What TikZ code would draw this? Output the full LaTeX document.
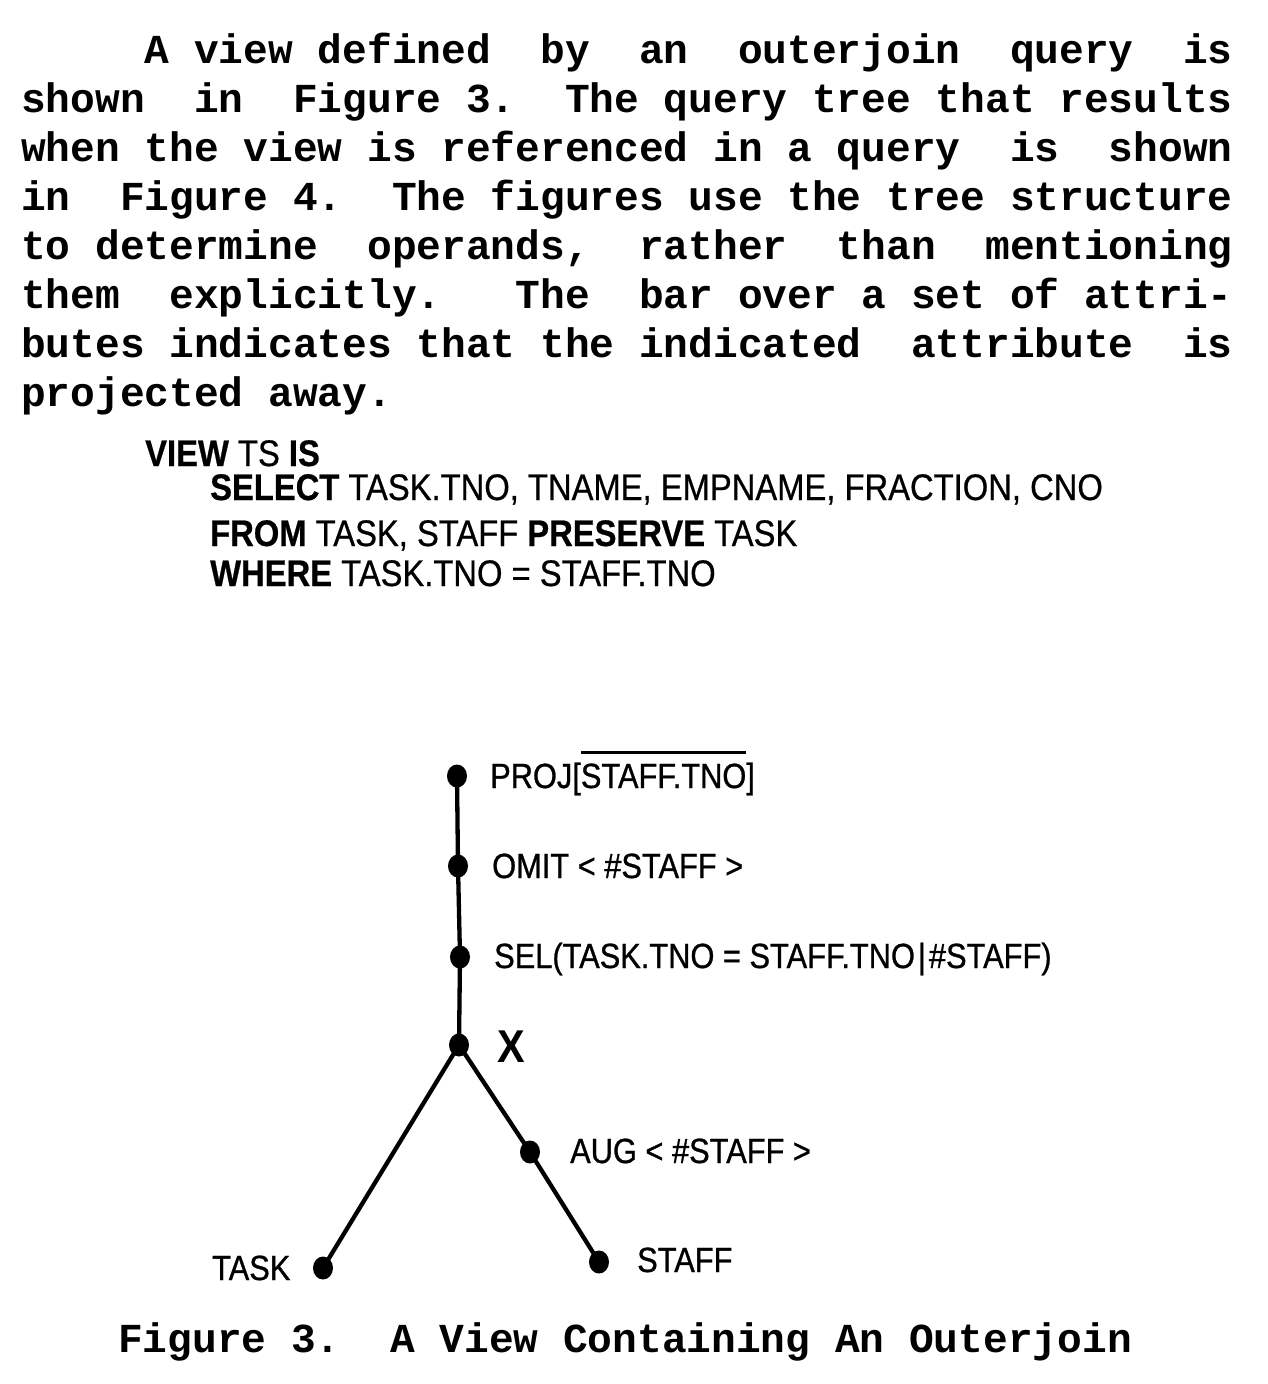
\documentclass[tikz,border=0pt]{standalone}
\usepackage{fontspec}
\usetikzlibrary{shapes.geometric}
\newfontfamily\twfont{Liberation Mono}
\newfontfamily\labfont[FakeStretch=0.88,FakeBold=0.8]{Liberation Sans}
\newfontfamily\xfont[FakeStretch=0.9]{Liberation Sans Bold}
\newfontfamily\sqlfont[FakeStretch=0.885,FakeBold=0.6]{Liberation Sans}
\frenchspacing
\newcommand\ovbar[1]{\setbox0\hbox{#1}\makebox[0pt][l]{\rule[34.5pt]{\wd0}{3pt}}\box0}
\tikzset{
  para/.style={anchor=base west, inner sep=0pt, font=\twfont\bfseries\fontsize{41.2}{49}\selectfont},
  sql/.style={anchor=base west, inner sep=0pt, font=\sqlfont\fontsize{37}{44}\selectfont},
  lab/.style={anchor=base west, inner sep=0pt, font=\labfont\fontsize{35}{42}\selectfont},
  bigx/.style={anchor=base west, inner sep=0pt, font=\xfont\fontsize{46}{50}\selectfont},
  dot/.style={ellipse, fill=black, inner sep=0pt, minimum width=20pt, minimum height=23pt},
  edge/.style={line width=4.3pt}
}
\begin{document}
\begin{tikzpicture}[x=1pt,y=-1pt]
\useasboundingbox[fill=white] (0,0) rectangle (1268,1384);
% paragraph
\node[para] (l1) at (144.6,63) {A view defined~ by~ an~ outerjoin~ query~ is};
\node[para] (l2) at (21,112) {shown~ in~ Figure 3.~ The query tree that results};
\node[para] (l3) at (21,161) {when the view is referenced in a query~ is~ shown};
\node[para] (l4) at (21,210) {in~ Figure 4.~ The figures use the tree structure};
\node[para] (l5) at (21,259) {to determine~ operands,~ rather~ than~ mentioning};
\node[para] (l6) at (21,308) {them~ explicitly.~~ The~ bar over a set of attri-};
\node[para] (l7) at (21,357) {butes indicates that the indicated~ attribute~ is};
\node[para] (l8) at (21,406) {projected away.};
% SQL
\node[sql] (q1) at (145,466) {\bfseries VIEW \mdseries TS \bfseries IS};
\node[sql] (q2) at (210,500) {{\bfseries SELECT} TASK.TNO, TNAME, EMPNAME, FRACTION, CNO};
\node[sql] (q3) at (210,546) {{\bfseries FROM} TASK, STAFF {\bfseries PRESERVE} TASK};
\node[sql] (q4) at (210,586) {{\bfseries WHERE} TASK.TNO = STAFF.TNO};
% tree
\node[dot] (proj) at (457,776) {};
\node[dot] (omit) at (458,866) {};
\node[dot] (sel) at (460,957) {};
\node[dot] (x) at (459,1045) {};
\node[dot] (aug) at (530,1152) {};
\node[dot] (staff) at (599,1262) {};
\node[dot] (task) at (323,1268) {};
\draw[edge] (proj.center) -- (omit.center) -- (sel.center) -- (x.center);
\draw[edge] (x.center) -- (task.center);
\draw[edge] (x.center) -- (aug.center) -- (staff.center);
\node[lab] (tproj) at (490,788) {PROJ[\ovbar{STAFF.TNO}]};
\node[lab] (tomit) at (492,878) {OMIT < \#STAFF >};
\node[lab] (tsel) at (494,968) {SEL(TASK.TNO = STAFF.TNO\hspace{3pt}|\hspace{3pt}\#STAFF)};
\node[bigx] (tx) at (497,1062) {X};
\node[lab] (taug) at (570,1163) {AUG < \#STAFF >};
\node[lab] (ttask) at (212,1280) {TASK};
\node[lab] (tstaff) at (637,1272) {STAFF};
% caption
\node[para] (cap) at (118,1352) {Figure 3.~ A View Containing An Outerjoin};
\end{tikzpicture}
\end{document}
